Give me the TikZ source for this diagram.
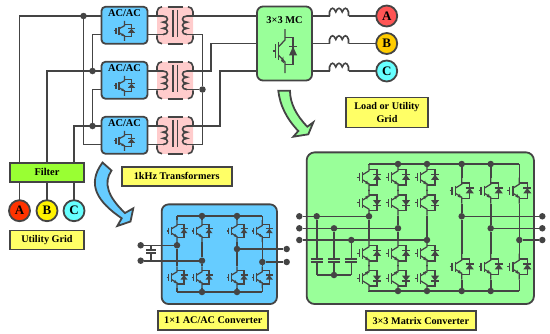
\documentclass[tikz,border=0pt]{standalone}
\usepackage{fontspec}
\setmainfont{Liberation Serif}
\usepackage{xcolor}
\usetikzlibrary{arrows.meta,positioning}
\definecolor{wirecol}{RGB}{68,68,68}
\definecolor{convblue}{RGB}{102,204,255}
\definecolor{mcgreen}{RGB}{153,255,153}
\definecolor{corepink}{RGB}{255,204,204}
\definecolor{filtgreen}{RGB}{153,255,51}
\definecolor{tagyellow}{RGB}{255,255,102}
\definecolor{phasered}{RGB}{255,51,0}
\definecolor{loadred}{RGB}{255,85,85}
\definecolor{loadamber}{RGB}{255,204,0}
\definecolor{phasecyan}{RGB}{102,255,255}
\tikzset{
  wire/.style={draw=wirecol, line width=1.6pt},
  swline/.style={draw=wirecol, line width=1.25pt},
  box/.style={rectangle, rounded corners=#1, draw=wirecol, line width=1.8pt,
              inner sep=0pt, outer sep=0pt},
  tagbox/.style={rectangle, draw=wirecol, line width=1.8pt, fill=tagyellow,
                 inner sep=0pt, outer sep=0pt, minimum height=19pt,
                 font=\fontsize{10.2}{12.5}\selectfont\bfseries, align=center},
  phase/.style={circle, draw=wirecol, line width=1.8pt, fill=#1,
                minimum size=21pt, inner sep=0pt, outer sep=0pt,
                font=\fontsize{13}{14}\selectfont\bfseries},
  dot/.style={circle, fill=wirecol, inner sep=0pt, minimum size=6.5pt},
  boldtext/.style={font=\fontsize{10.4}{12}\selectfont\bfseries, inner sep=0pt},
  bigarrow/.style={draw=wirecol, line width=1.8pt, fill=#1, line join=miter},
  igbt/.pic={
    \draw[swline] (0,-10) -- (0,-5) -- (-5.5,-2);
    \draw[swline] (-5.5,2) -- (0,5) -- (0,10);
    \draw[swline] (-5.5,-4) -- (-5.5,4);
    \draw[swline] (-8.5,-3) -- (-8.5,3);
    \draw[swline] (-10.5,0) -- (-8.5,0);
    \draw[swline] (0,-6) -- (7,-6) -- (7,6) -- (0,6);
    \fill[wirecol] (3.5,2) -- (10.5,2) -- (7,-2) -- cycle;
    \draw[swline] (3.5,-2) -- (10.5,-2);
    \fill[wirecol] (-1,5.5) -- (-3.5,4.5) -- (-1.5,2.5) -- cycle;
    \coordinate (-c) at (0,-10);
    \coordinate (-e) at (0,10);
  },
  xfmr/.pic={
    \draw[wire, rounded corners=5pt] (-18,-10) -- (-18,-18.5) -- (-13,-18.5);
    \draw[wire, rounded corners=5pt] (18,-10) -- (18,-18.5) -- (13,-18.5);
    \draw[wire, rounded corners=5pt] (-18,10) -- (-18,18.5) -- (-13,18.5);
    \draw[wire, rounded corners=5pt] (18,10) -- (18,18.5) -- (13,18.5);
    \draw[wire] (-7.5,-18.5) -- (7.5,-18.5);
    \draw[wire] (-7.5,18.5) -- (7.5,18.5);
    \draw[wire] (-2.3,-15.5) -- (-2.3,12);
    \draw[wire] (2.3,-15.5) -- (2.3,12);
    \draw[wire] (-12,-9.25) .. controls (-6,-9.25) and (-6,-3.1) .. (-12,-3.1)
                .. controls (-6,-3.1) and (-6,3.1) .. (-12,3.1)
                .. controls (-6,3.1) and (-6,9.25) .. (-12,9.25);
    \draw[wire] (12,-9.25) .. controls (6,-9.25) and (6,-3.1) .. (12,-3.1)
                .. controls (6,-3.1) and (6,3.1) .. (12,3.1)
                .. controls (6,3.1) and (6,9.25) .. (12,9.25);
    \coordinate (-lt) at (-12,-9.25);
    \coordinate (-lb) at (-12,9.25);
    \coordinate (-rt) at (12,-9.25);
    \coordinate (-rb) at (12,9.25);
  },
  choke/.pic={
    \draw[wire] (-9.5,0) -- (-9.5,-4)
                .. controls (-8,-9) and (-5,-9) .. (-3.2,-4)
                .. controls (-1.5,-9) and (1.5,-9) .. (3.2,-4)
                .. controls (5,-9) and (8,-9) .. (9.5,-4) -- (9.5,0);
    \coordinate (-a) at (-9.5,0);
    \coordinate (-b) at (9.5,0);
  },
  capbank/.pic={
    \draw[wire] (-#1,0) -- (#1,0);
    \draw[wire] (-#1,3.5) -- (#1,3.5);
    \coordinate (-t) at (0,0);
    \coordinate (-b) at (0,3.5);
  },
}
\begin{document}
\begin{tikzpicture}[x=1pt, y=-1pt, node distance=18pt and 9.5pt]
  \useasboundingbox (0,0) rectangle (550,333);

  % grid side
  \node[box=0pt, fill=filtgreen, minimum width=74pt, minimum height=19pt] (filt) at (47,172.2) {};
  \node[boldtext] (filttxt) at (filt.center) {Filter};
  \node[phase=phasered] (uA) at (19.5,210.7) {A};
  \node[phase=yellow] (uB) at (47,210.7) {B};
  \node[phase=phasecyan] (uC) at (74,210.7) {C};
  \node[tagbox, minimum width=74pt] (gridtag) at (47,240) {Utility Grid};

  % three cells
  \node[box=4pt, fill=convblue, minimum width=46pt, minimum height=37pt] (acA) at (124.5,25.25) {};
  \node[box=4pt, fill=convblue, minimum width=46pt, minimum height=37pt, below=18pt of acA] (acB) {};
  \node[box=4pt, fill=convblue, minimum width=46pt, minimum height=37pt, below=18pt of acB] (acC) {};
  \foreach \n in {A,B,C} {
    \node[rectangle, rounded corners=5pt, fill=corepink, minimum width=36pt, minimum height=37pt,
          inner sep=0pt, outer sep=0pt, right=9.5pt of ac\n] (tr\n) {};
    \pic (co\n) at (tr\n) {xfmr};
    \node[boldtext, below=3pt of ac\n.north] (lab\n) {AC/AC};
    \pic[yshift=-5.5pt] (sw\n) at (ac\n) {igbt};
    \coordinate (ac\n i) at ([yshift=9.25pt]ac\n.west);
    \coordinate (ac\n o) at ([yshift=-9.25pt]ac\n.west);
    \coordinate (ac\n r) at ([yshift=9.25pt]ac\n.east);
    \coordinate (ac\n s) at ([yshift=-9.25pt]ac\n.east);
    \draw[wire] (ac\n r) -- (co\n-lt);
    \draw[wire] (ac\n s) -- (co\n-lb);
  }

  % matrix stage
  \node[box=6pt, fill=mcgreen, minimum width=55pt, minimum height=74pt] (mc) at (284.5,43.5) {};
  \node[boldtext] (mctxt) at (284.5,20) {3×3 MC};
  \pic[xscale=1.15, yscale=2.2] (mcsw) at (285,51) {igbt};
  \coordinate (mA) at ([yshift=27.5pt]mc.west);
  \coordinate (mB) at (mc.west);
  \coordinate (mC) at ([yshift=-27.5pt]mc.west);
  \coordinate (oA) at ([yshift=27.5pt]mc.east);
  \coordinate (oB) at (mc.east);
  \coordinate (oC) at ([yshift=-27.5pt]mc.east);
  \node[phase=loadred] (rA) at (386.7,16) {A};
  \node[phase=loadamber] (rB) at (386.7,43.5) {B};
  \node[phase=phasecyan] (rC) at (386.7,71) {C};
  \foreach \n in {A,B,C} {
    \pic (ch\n) at (o\n -| 339,0) {choke};
    \draw[wire] (o\n) -- (ch\n-a);
    \draw[wire] (ch\n-b) -- (r\n);
  }
  \node[tagbox, minimum width=82.5pt, minimum height=30pt] (loadtag) at (387,112.5) {Load or Utility\\Grid};
  \node[tagbox, minimum width=110pt] (xftag) at (176.7,176.2) {1kHz Transformers};

  % wiring of the top part
  \node[dot] (jA) at (83.5,16) {};
  \node[dot] (jB) at (92.5,71) {};
  \node[dot] (jC) at (92.5,126) {};
  \node[dot] (jR) at (202.5,89.5) {};
  \coordinate (kB) at (211,43.5);
  \coordinate (kC) at (220,71);
  \draw[wire] (uA) -- (filt.south -| uA);
  \draw[wire] (uB) -- (filt.south -| uB);
  \draw[wire] (uC) -- (filt.south -| uC);
  \draw[wire] (filt.north -| uA) |- (acAi);
  \draw[wire] (filt.north -| uB) |- (acBi);
  \draw[wire] (filt.north -| uC) |- (acCi);
  \draw[wire] (jA) |- (acCo);
  \draw[wire] (acAo) -| (jB);
  \draw[wire] (acBo) -| (jC);
  \draw[wire] (coA-rt) -- (mA);
  \draw[wire] (coA-rb) -| (jR);
  \draw[wire] (coB-rb) -- (jR);
  \draw[wire] (jR) |- (coC-rb);
  \draw[wire] (coB-rt) -| (kB) -- (mB);
  \draw[wire] (coC-rt) -| (kC) -- (mC);

  % big arrows
  \path[bigarrow=convblue] (102.5,162.5) -- (111.5,170.5)
      .. controls (103,183) and (108,197) .. (125,213)
      -- (133.3,208.3) -- (130.5,221.5) -- (117.3,226) -- (121.7,218.3)
      .. controls (98,202) and (86,185) .. (102.5,162.5) -- cycle;
  \path[bigarrow=mcgreen] (278.3,90.7) -- (290,90.7)
      .. controls (290,103) and (296,115) .. (307.3,126.7)
      -- (313.3,122.3) -- (308.3,134.3) -- (293.3,136.7) -- (298.3,131)
      .. controls (286,118) and (280,105) .. (278.3,90.7) -- cycle;

  % 1x1 converter
  \node[box=7pt, fill=convblue, minimum width=115.3pt, minimum height=99.7pt] (oneconv) at (219.3,254.2) {};
  \node[tagbox, minimum width=110pt] (onetag) at (213.3,320.5) {1×1 AC/AC Converter};
  \coordinate (bta) at (177,216);
  \coordinate (btd) at (262.3,216);
  \coordinate (bba) at (177,292);
  \coordinate (bbd) at (262.3,292);
  \draw[wire] (bta) -- (btd);
  \draw[wire] (bba) -- (bbd);
  \foreach \cx/\n/\jy in {177/a/245.3,202/b/260.7,237/c/249,262.3/d/262} {
    \pic[yscale=1.1] (hi\n) at (\cx,231) {igbt};
    \pic[yscale=1.1] (lo\n) at (\cx,277.3) {igbt};
    \node[dot] (mid\n) at (\cx,\jy) {};
    \coordinate (upb\n) at (\cx,216);
    \coordinate (dnb\n) at (\cx,292);
    \draw[wire] (upb\n) -- (hi\n-c);
    \draw[wire] (hi\n-e) -- (mid\n);
    \draw[wire] (mid\n) -- (lo\n-c);
    \draw[wire] (lo\n-e) -- (dnb\n);
  }
  \node[dot] (utb) at (202,216) {};
  \node[dot] (utc) at (237,216) {};
  \node[dot] (ubb) at (202,292) {};
  \node[dot] (ubc) at (237,292) {};
  \node[dot] (inp) at (140.7,245.3) {};
  \node[dot] (inn) at (140.7,260.7) {};
  \node[dot] (outp) at (286.7,249) {};
  \node[dot] (outn) at (286.7,262) {};
  \draw[wire] (inp) -- (mida);
  \draw[wire] (inn) -- (midb);
  \draw[wire] (midc) -- (outp);
  \draw[wire] (midd) -- (outn);
  \coordinate (captop) at (151,245.3);
  \coordinate (capbot) at (151,260.7);
  \pic (dccap) at (151,249.7) {capbank=5};
  \draw[wire] (captop) -- (dccap-t);
  \draw[wire] (dccap-b) -- (capbot);

  % 3x3 matrix converter
  \node[box=8pt, fill=mcgreen, minimum width=227.3pt, minimum height=151.7pt] (matconv) at (420.3,228.2) {};
  \node[tagbox, minimum width=110.3pt] (mattag) at (420.8,320.8) {3×3 Matrix Converter};
  \coordinate (tbl) at (369,164);
  \coordinate (tbr) at (519.3,164);
  \coordinate (bbl) at (369,291);
  \coordinate (bbr) at (519.3,291);
  \draw[wire] (tbl) -- (tbr);
  \draw[wire] (bbl) -- (bbr);
  \foreach \cx/\n/\jy/\tx in {369/a/216.3/316.7,398/b/228.3/334,427/c/240/351.3} {
    \pic[xscale=1.15, yscale=1.3] (ma\n) at (\cx,177.3) {igbt};
    \pic[xscale=1.15, yscale=-1.3] (mb\n) at (\cx,202.7) {igbt};
    \pic[xscale=1.15, yscale=1.3] (mc\n) at (\cx,253.3) {igbt};
    \pic[xscale=1.15, yscale=-1.3] (md\n) at (\cx,278.3) {igbt};
    \node[dot] (mj\n) at (\cx,\jy) {};
    \node[dot] (lt\n) at (299.3,\jy) {};
    \node[dot] (ct\n) at (\tx,\jy) {};
    \coordinate (sa\n) at (\cx,164);
    \coordinate (sd\n) at (\cx,291);
    \draw[wire] (lt\n) -- (mj\n);
    \draw[wire] (sa\n) -- (ma\n-c);
    \draw[wire] (ma\n-e) -- (mb\n-e);
    \draw[wire] (mb\n-c) -- (mj\n);
    \draw[wire] (mj\n) -- (mc\n-c);
    \draw[wire] (mc\n-e) -- (md\n-e);
    \draw[wire] (md\n-c) -- (sd\n);
    \pic (fc\n) at (\tx,258.7) {capbank=6};
    \draw[wire] (ct\n) -- (fc\n-t);
    \coordinate (fe\n) at (\tx,275);
    \draw[wire] (fc\n-b) -- (fe\n);
  }
  \draw[wire] (fea) -- (fec);
  \node[dot] (fn) at (334,275) {};
  \foreach \cx/\n/\jy in {461.7/a/216.3,490.7/b/228.3,519.3/c/240} {
    \pic[xscale=1.15, yscale=1.3] (iu\n) at (\cx,190.7) {igbt};
    \pic[xscale=1.15, yscale=1.3] (il\n) at (\cx,266.7) {igbt};
    \node[dot] (ij\n) at (\cx,\jy) {};
    \node[dot] (rt\n) at (542.3,\jy) {};
    \coordinate (ia\n) at (\cx,164);
    \coordinate (id\n) at (\cx,291);
    \draw[wire] (ij\n) -- (rt\n);
    \draw[wire] (ia\n) -- (iu\n-c);
    \draw[wire] (iu\n-e) -- (ij\n);
    \draw[wire] (ij\n) -- (il\n-c);
    \draw[wire] (il\n-e) -- (id\n);
  }
  \foreach \cx/\n in {398/b,427/c,461.7/d,490.7/e} {
    \node[dot] (td\n) at (\cx,164) {};
    \node[dot] (bd\n) at (\cx,291) {};
  }
\end{tikzpicture}
\end{document}
